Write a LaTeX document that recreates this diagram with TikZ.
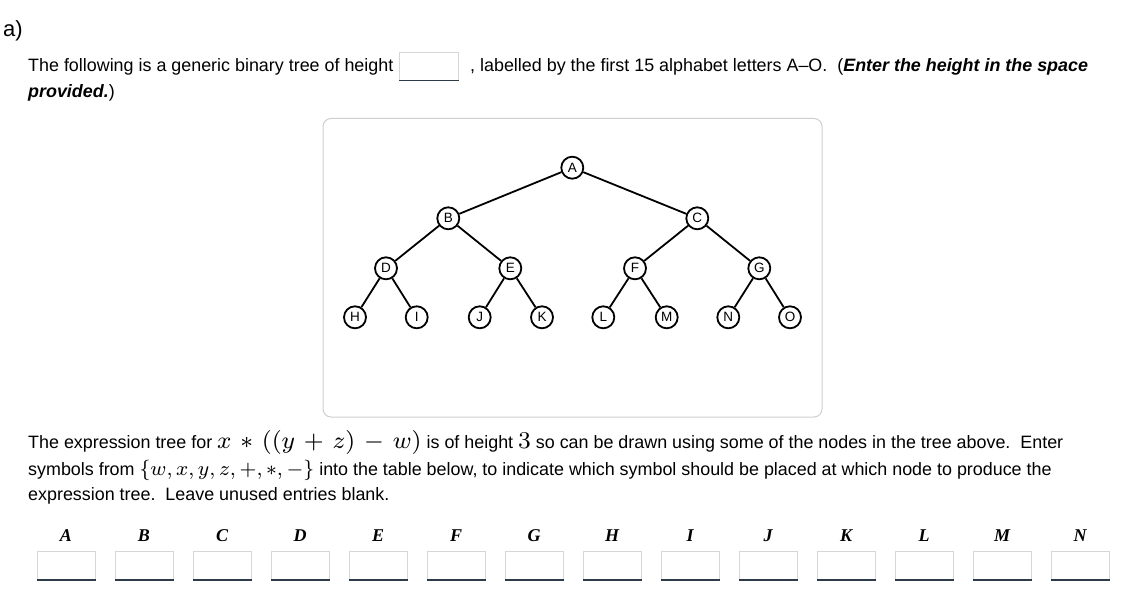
\documentclass[tikz,border=0pt]{standalone}
\usepackage[no-math]{fontspec}
\setmainfont{Liberation Sans}
\newfontfamily\serifm{Liberation Serif}
\definecolor{boxgray}{HTML}{D6D6D6}
\definecolor{framegray}{HTML}{CFCFCF}
\definecolor{inkline}{HTML}{2E3B4A}
\newcommand{\scaledmath}[2]{\scalebox{#1}{\fontsize{8}{10}\selectfont #2}}
\begin{document}
\begin{tikzpicture}[x=1pt,y=-1pt,
  txt/.style={inner sep=0pt,anchor=base west,font=\fontsize{17.9}{20}\selectfont},
  treenode/.style={circle,draw,line width=1.8pt,minimum size=22pt,inner sep=0pt,fill=white,font=\fontsize{13.5}{14}\selectfont},
  edge/.style={line width=1.8pt},
  inbox/.style={draw=boxgray,line width=1pt,minimum width=58.6pt,minimum height=28pt,inner sep=0pt,anchor=north west},
  collabel/.style={inner sep=0pt,anchor=base,font=\fontsize{18}{20}\serifm\bfseries\itshape}
]
\useasboundingbox (0,0) rectangle (1134,596);
\fill[white] (0,0) rectangle (1134,596);

% heading
\node[inner sep=0pt,anchor=base west,font=\fontsize{22}{24}\selectfont] (head) at (3,37) {a)};

% paragraph 1
\node[txt] (p1a) at (28,72) {The following is a generic binary tree of height};
\node[inbox] (hbox) at (399.3,51.7) {};
\draw[inkline,line width=1.3pt] (hbox.south west) -- (hbox.south east);
\node[txt] (p1b) at (470,72) {, labelled by the first 15 alphabet letters A–O.\ \ (\textbf{\textit{Enter the height in the space}}};
\node[txt] (p1c) at (28,98) {\textbf{\textit{provided.}})};

% tree frame
\draw[framegray,line width=1pt,rounded corners=8pt] (323,118.5) rectangle (822,417);

% tree nodes
\node[treenode] (A) at (572.3,167.7) {A};
\node[treenode] (B) at (448.3,218.3) {B};
\node[treenode] (C) at (697.3,218.3) {C};
\node[treenode] (D) at (386,268.3) {D};
\node[treenode] (E) at (510.3,268.3) {E};
\node[treenode] (F) at (635,268.3) {F};
\node[treenode] (G) at (759.3,268.3) {G};
\node[treenode] (H) at (355,317.3) {H};
\node[treenode] (I) at (416.7,317.3) {I};
\node[treenode] (J) at (479.7,317.3) {J};
\node[treenode] (K) at (542,317.3) {K};
\node[treenode] (L) at (603.3,317.3) {L};
\node[treenode] (M) at (666.7,317.3) {M};
\node[treenode] (N) at (728.3,317.3) {N};
\node[treenode] (O) at (790,317.3) {O};
\foreach \p/\c in {A/B,A/C,B/D,B/E,C/F,C/G,D/H,D/I,E/J,E/K,F/L,F/M,G/N,G/O}
  \draw[edge] (\p) -- (\c);

% paragraph 2
\node[txt] (p2a) at (28,448) {The expression tree for \scaledmath{3}{\medmuskip=6.2mu $x\ast((y+z)-w)$} is of height \scaledmath{3}{$3$} so can be drawn using some of the nodes in the tree above.\ \ Enter};
\node[txt] (p2b) at (28,475) {symbols from \scaledmath{2.55}{$\{w, x, y, z, +, \ast, -\}$} into the table below, to indicate which symbol should be placed at which node to produce the};
\node[txt] (p2c) at (28,500) {expression tree.\ \ Leave unused entries blank.};

% table
\foreach \l [count=\i from 0] in {A,B,C,D,E,F,G,H,I,J,K,L,M,N} {
  \node[collabel] (lab\l) at ({66+78*\i},541) {\l};
  \node[inbox] (in\l) at ({36.7+78*\i},551) {};
  \draw[inkline,line width=1.3pt] (in\l.south west) -- (in\l.south east);
}
\end{tikzpicture}
\end{document}
